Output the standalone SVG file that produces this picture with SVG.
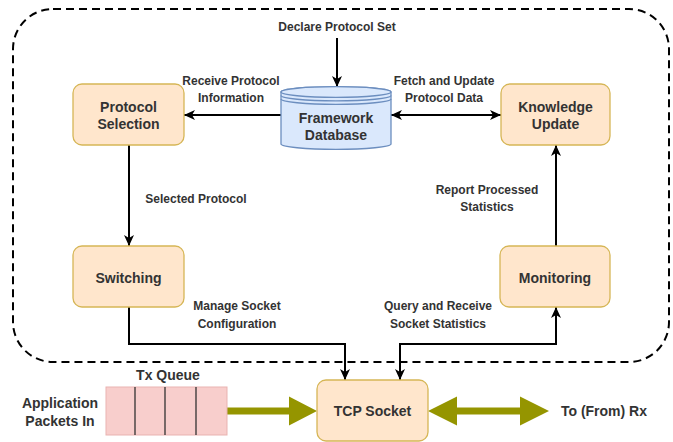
<svg xmlns="http://www.w3.org/2000/svg" width="673" height="442" viewBox="0 0 673 442">
  <style>
    .node { fill: #ffe6cc; stroke: #d6b656; stroke-width: 1.3; }
    .db { fill: #dae8fc; stroke: #6c8ebf; stroke-width: 1.3; }
    .ntext { font-family: "Liberation Sans", Arial, sans-serif; font-size: 14px; font-weight: bold; fill: #333; text-anchor: middle; }
    .label { font-family: "Liberation Sans", Arial, sans-serif; font-size: 12px; font-weight: bold; fill: #333; text-anchor: middle; }
    .wire { fill: none; stroke: #000; stroke-width: 2; }
    .flow { fill: #959500; }
  </style>
  <defs>
    <marker id="arrowEnd" markerUnits="userSpaceOnUse" markerWidth="12" markerHeight="12" refX="11" refY="6" orient="auto">
      <path d="M0,1 L11,6 L0,11 L3,6 Z" fill="#000"/>
    </marker>
    <marker id="arrowStart" markerUnits="userSpaceOnUse" markerWidth="12" markerHeight="12" refX="1" refY="6" orient="auto">
      <path d="M12,1 L1,6 L12,11 L9,6 Z" fill="#000"/>
    </marker>
  </defs>

  <!-- framework boundary -->
  <rect x="13" y="9" width="656" height="353" rx="40" ry="40" fill="none" stroke="#000" stroke-width="2" stroke-dasharray="8 5"/>

  <!-- connectors -->
  <g id="connectors">
    <path class="wire" d="M337,38 V87" marker-end="url(#arrowEnd)"/>
    <path class="wire" d="M281,115 H184" marker-end="url(#arrowEnd)"/>
    <path class="wire" d="M391,115 H501" marker-start="url(#arrowStart)" marker-end="url(#arrowEnd)"/>
    <path class="wire" d="M129,145 V246" marker-end="url(#arrowEnd)"/>
    <path class="wire" d="M556,246 V145" marker-end="url(#arrowEnd)"/>
    <path class="wire" d="M129,307 V344 H345 V380" marker-end="url(#arrowEnd)"/>
    <path class="wire" d="M400,380 V344 H556 V307" marker-start="url(#arrowStart)" marker-end="url(#arrowEnd)"/>
    <!-- packet flow arrows -->
    <polygon class="flow" points="227,407.5 289,407.5 289,396.5 317,411 289,425.5 289,414.5 227,414.5"/>
    <polygon class="flow" points="428,411 457,396.5 457,407.5 520,407.5 520,396.5 549,411 520,425.5 520,414.5 457,414.5 457,425.5"/>
  </g>

  <!-- connector labels -->
  <g id="labels">
    <text class="label" x="337" y="31">Declare Protocol Set</text>
    <text class="label" x="231" y="85">Receive Protocol</text>
    <text class="label" x="231" y="102">Information</text>
    <text class="label" x="444" y="85">Fetch and Update</text>
    <text class="label" x="444" y="102">Protocol Data</text>
    <text class="label" x="196" y="203">Selected Protocol</text>
    <text class="label" x="487" y="194">Report Processed</text>
    <text class="label" x="487" y="211">Statistics</text>
    <text class="label" x="237" y="310">Manage Socket</text>
    <text class="label" x="237" y="328">Configuration</text>
    <text class="label" x="438" y="310">Query and Receive</text>
    <text class="label" x="438" y="328">Socket Statistics</text>
  </g>

  <g id="framework-database">
    <path class="db" d="M281,92 V144 A55,5.3 0 0 0 391,144 V92 A55,5.3 0 0 0 281,92 Z"/>
    <ellipse class="db" cx="336" cy="92" rx="55" ry="5.3"/>
    <path d="M281,95.5 A55,5.3 0 0 0 391,95.5 M281,99 A55,5.3 0 0 0 391,99" fill="none" stroke="#6c8ebf" stroke-width="1.3"/>
    <text class="ntext" x="336" y="123">Framework</text>
    <text class="ntext" x="336" y="140">Database</text>
  </g>

  <g id="protocol-selection">
    <rect class="node" x="73" y="84" width="111" height="61" rx="9"/>
    <text class="ntext" x="128.5" y="112">Protocol</text>
    <text class="ntext" x="128.5" y="129">Selection</text>
  </g>

  <g id="knowledge-update">
    <rect class="node" x="501" y="84" width="109" height="61" rx="9"/>
    <text class="ntext" x="555.5" y="112">Knowledge</text>
    <text class="ntext" x="555.5" y="129">Update</text>
  </g>

  <g id="switching">
    <rect class="node" x="73" y="246" width="111" height="61" rx="9"/>
    <text class="ntext" x="128.5" y="283">Switching</text>
  </g>

  <g id="monitoring">
    <rect class="node" x="500" y="246" width="110" height="61" rx="9"/>
    <text class="ntext" x="555" y="283">Monitoring</text>
  </g>

  <g id="tcp-socket">
    <rect class="node" x="317" y="380" width="111" height="61" rx="9"/>
    <text class="ntext" x="372.5" y="416">TCP Socket</text>
  </g>

  <g id="tx-queue">
    <rect x="106" y="387" width="121" height="48" fill="#f8cecc" stroke="#e9b3b1" stroke-width="1"/>
    <path d="M135,387 V435 M165,387 V435 M196,387 V435" stroke="#333" stroke-width="1.3"/>
    <text class="ntext" x="168" y="380">Tx Queue</text>
  </g>

  <g id="application-packets">
    <text class="ntext" x="60" y="408">Application</text>
    <text class="ntext" x="60" y="426">Packets In</text>
  </g>

  <g id="rx">
    <text class="ntext" x="604" y="416">To (From) Rx</text>
  </g>
</svg>
